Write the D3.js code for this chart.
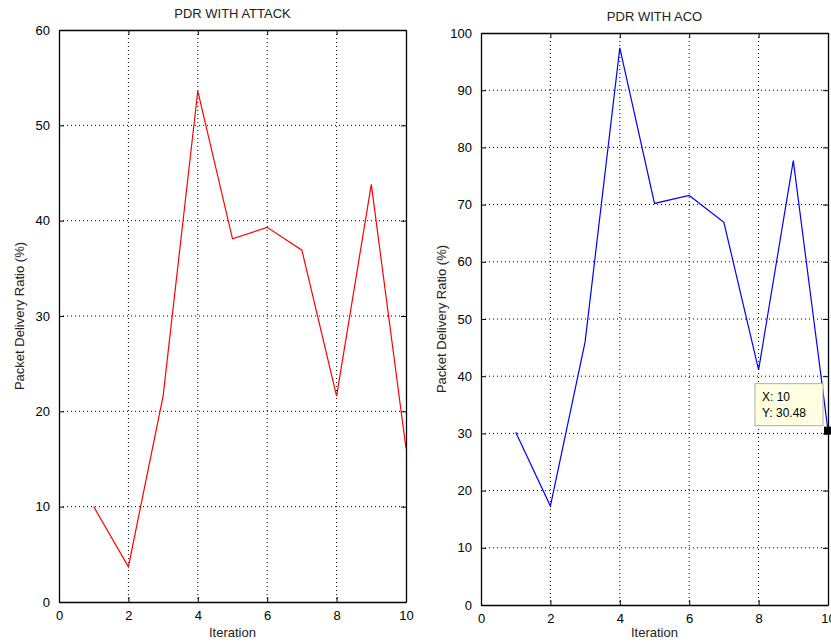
<!DOCTYPE html>
<html>
<head>
<meta charset="utf-8">
<script src="https://cdn.jsdelivr.net/npm/d3@7"></script>
<style>
  body { margin: 0; background: #fff; }
  svg { font-family: "Liberation Sans", Arial, sans-serif; }
</style>
</head>
<body>
<svg id="chart" width="831" height="643"></svg>
<script>
const iterations = [1, 2, 3, 4, 5, 6, 7, 8, 9, 10];
const pdrAttack = [10, 3.7, 21.6, 53.6, 38.1, 39.3, 36.9, 21.6, 43.8, 16.1];
const pdrAco = [30.2, 17.3, 46, 97.4, 70.2, 71.6, 66.9, 41.1, 77.7, 30.48];
const xTicks = [0, 2, 4, 6, 8, 10];
const attackTicks = [0, 10, 20, 30, 40, 50, 60];
const acoTicks = [0, 10, 20, 30, 40, 50, 60, 70, 80, 90, 100];

const svg = d3.select("#chart");

function drawPanel(opt) {
  const x = d3.scaleLinear().domain([0, 10]).range([opt.left, opt.right]);
  const y = d3.scaleLinear().domain([0, opt.yMax]).range([opt.bottom, opt.top]);
  const g = svg.append("g");

  // grid
  g.selectAll(".gx").data(xTicks.slice(1, -1)).enter().append("line")
    .attr("x1", d => x(d)).attr("x2", d => x(d))
    .attr("y1", opt.top).attr("y2", opt.bottom)
    .attr("stroke", "#000").attr("stroke-dasharray", "1,3");
  g.selectAll(".gy").data(opt.yTicks.slice(1, -1)).enter().append("line")
    .attr("y1", d => y(d)).attr("y2", d => y(d))
    .attr("x1", opt.left).attr("x2", opt.right)
    .attr("stroke", "#000").attr("stroke-dasharray", "1,3");

  // axes
  const bottomAxis = d3.axisBottom(x).tickValues(xTicks).tickSizeInner(-5).tickSizeOuter(0).tickPadding(9);
  const leftAxis = d3.axisLeft(y).tickValues(opt.yTicks).tickSizeInner(-5).tickSizeOuter(0).tickPadding(9);
  const topAxis = d3.axisTop(x).tickValues(xTicks).tickSizeInner(-5).tickSizeOuter(0).tickFormat("");
  const rightAxis = d3.axisRight(y).tickValues(opt.yTicks).tickSizeInner(-5).tickSizeOuter(0).tickFormat("");

  [[bottomAxis, `translate(0,${opt.bottom})`], [leftAxis, `translate(${opt.left},0)`],
   [topAxis, `translate(0,${opt.top})`], [rightAxis, `translate(${opt.right},0)`]]
    .forEach(([ax, tr]) => {
      const a = g.append("g").attr("transform", tr).call(ax);
      a.selectAll("path, line").attr("stroke", "#000");
      a.selectAll("text").attr("fill", "#000").style("font-size", "13px");
      a.select(".domain").attr("stroke-width", 1.3);
    });

  // line
  const line = d3.line().x((d, i) => x(iterations[i])).y(d => y(d));
  g.append("path").datum(opt.values)
    .attr("fill", "none").attr("stroke", opt.color).attr("stroke-width", 1.2)
    .attr("d", line);

  // title and labels
  g.append("text").attr("x", (opt.left + opt.right) / 2).attr("y", opt.top - 12)
    .attr("text-anchor", "middle").style("font-size", "13px").attr("fill", "#222")
    .text(opt.title);
  g.append("text").attr("x", (opt.left + opt.right) / 2).attr("y", 637)
    .attr("text-anchor", "middle").style("font-size", "13px").attr("fill", "#222")
    .text("Iteration");
  g.append("text")
    .attr("transform", `translate(${opt.left - 35},${(opt.top + opt.bottom) / 2}) rotate(-90)`)
    .attr("text-anchor", "middle").style("font-size", "13px").attr("fill", "#222")
    .text("Packet Delivery Ratio (%)");

  return { x, y, g };
}

drawPanel({
  left: 59, right: 406, top: 30, bottom: 602, yMax: 60,
  yTicks: attackTicks, values: pdrAttack, color: "#ff0000", title: "PDR WITH ATTACK"
});

const aco = drawPanel({
  left: 481, right: 828, top: 33, bottom: 605, yMax: 100,
  yTicks: acoTicks, values: pdrAco, color: "#0000ff", title: "PDR WITH ACO"
});

// data tip at last point
const tipX = aco.x(iterations[9]), tipY = aco.y(pdrAco[9]);
aco.g.append("rect").attr("x", tipX - 73).attr("y", tipY - 47).attr("width", 68).attr("height", 42)
  .attr("fill", "#ffffe1").attr("stroke", "#b0b0a0");
aco.g.append("text").attr("x", tipX - 66).attr("y", tipY - 30).style("font-size", "12px").text("X: 10");
aco.g.append("text").attr("x", tipX - 66).attr("y", tipY - 14).style("font-size", "12px").text("Y: " + pdrAco[9]);
aco.g.append("rect").attr("x", tipX - 4).attr("y", tipY - 4).attr("width", 8).attr("height", 8).attr("fill", "#000");
</script>
</body>
</html>
